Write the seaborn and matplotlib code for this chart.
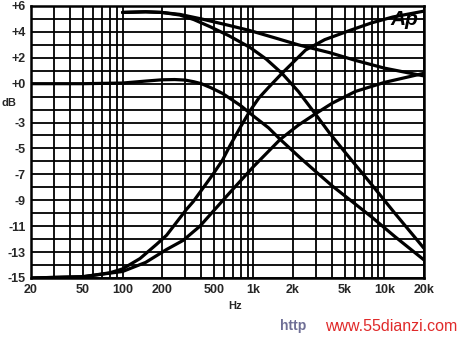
import matplotlib
matplotlib.use("Agg")
import matplotlib.pyplot as plt
import seaborn as sns
import pandas as pd
from matplotlib.ticker import FixedLocator, NullFormatter

# traces (frequency in Hz, level in dB)
lp_flat_f = [20, 50, 100, 150, 200, 250, 300, 350, 400, 470, 580, 800, 1000, 1300, 1600, 2260, 3000, 4000, 5500, 8000, 12000, 20000]
lp_flat_db = [0.0, 0.0, 0.05, 0.2, 0.3, 0.32, 0.28, 0.15, 0.0, -0.3, -0.75, -1.7, -2.5, -3.4, -4.3, -5.7, -6.8, -7.9, -9.0, -10.3, -11.8, -13.6]

lp_boost_f = [100, 150, 200, 274, 350, 466, 650, 940, 1250, 1650, 2200, 3000, 3800, 5100, 8000, 12000, 20000]
lp_boost_db = [5.5, 5.55, 5.5, 5.3, 4.95, 4.4, 3.7, 2.8, 1.9, 0.8, -0.6, -2.4, -3.8, -5.4, -7.8, -10.0, -12.7]

shelf_f = [100, 150, 200, 274, 400, 650, 940, 1500, 2200, 3800, 6000, 10000, 20000]
shelf_db = [5.5, 5.55, 5.5, 5.35, 5.0, 4.5, 4.1, 3.5, 3.0, 2.4, 1.8, 1.2, 0.6]

hp_boost_f = [20, 50, 80, 100, 136, 182, 217, 308, 347, 490, 580, 660, 800, 940, 1100, 1300, 1650, 2500, 3500, 5400, 8000, 11600, 20000]
hp_boost_db = [-15.0, -14.9, -14.6, -14.3, -13.5, -12.4, -11.7, -9.7, -9.1, -7.0, -5.9, -4.8, -3.3, -2.1, -1.1, -0.3, 0.8, 2.6, 3.4, 4.1, 4.7, 5.15, 5.6]

hp_flat_f = [20, 50, 100, 150, 217, 290, 390, 585, 661, 1000, 1600, 2200, 3000, 4000, 6000, 10000, 20000]
hp_flat_db = [-15.0, -14.9, -14.5, -13.8, -12.8, -12.1, -11.0, -9.0, -8.4, -6.4, -4.3, -3.2, -2.3, -1.5, -0.6, 0.1, 0.8]

x_ticks = [20, 50, 100, 200, 500, 1000, 2000, 5000, 10000, 20000]
x_labels = ["20", "50", "100", "200", "500", "1k", "2k", "5k", "10k", "20k"]
y_ticks = [6, 4, 2, 0, -3, -5, -7, -9, -11, -13, -15]
y_labels = ["+6", "+4", "+2", "+0", "-3", "-5", "-7", "-9", "-11", "-13", "-15"]

sns.set_theme(style="white")
plt.rcParams["font.family"] = ["Liberation Sans", "DejaVu Sans"]

fig = plt.figure(figsize=(4.59, 3.39), dpi=100)
ax = fig.add_axes([0.0675, 0.180, 0.856, 0.8024])

traces = [(lp_flat_f, lp_flat_db), (lp_boost_f, lp_boost_db), (shelf_f, shelf_db),
          (hp_boost_f, hp_boost_db), (hp_flat_f, hp_flat_db)]
for f, db in traces:
    df = pd.DataFrame({"Hz": f, "dB": db})
    sns.lineplot(data=df, x="Hz", y="dB", ax=ax, color="black", lw=2.3,
                 estimator=None, sort=False, zorder=3)

ax.set_xscale("log")
ax.set_xlim(20, 20000)
ax.set_ylim(-15, 6)

minor_x = [m * d for d in (10, 100, 1000, 10000) for m in range(1, 10) if 20 <= m * d <= 20000]
ax.xaxis.set_major_locator(FixedLocator(x_ticks))
ax.xaxis.set_minor_locator(FixedLocator(minor_x))
ax.xaxis.set_minor_formatter(NullFormatter())
ax.set_xticklabels(x_labels)
ax.yaxis.set_major_locator(FixedLocator(y_ticks))
ax.yaxis.set_minor_locator(FixedLocator(list(range(-15, 7))))
ax.set_yticklabels(y_labels)

ax.grid(which="both", color="black", lw=1.3, zorder=1)
ax.tick_params(which="both", length=0, labelsize=9, pad=4)
for lab in ax.get_xticklabels() + ax.get_yticklabels():
    lab.set_fontweight("bold")
for s in ax.spines.values():
    s.set_color("black")
    s.set_linewidth(1.8)

ax.set_xlabel("Hz", fontsize=8, fontweight="bold", labelpad=3)
ax.xaxis.set_label_coords(0.52, -0.085)
ax.set_ylabel("dB", rotation=0, fontsize=8, fontweight="bold")
ax.yaxis.set_label_coords(-0.055, 0.625)

ax.text(0.985, 0.985, "Ap", transform=ax.transAxes, ha="right", va="top",
        fontsize=15, fontweight="bold", fontstyle="italic", color="black", zorder=5)

fig.text(0.61, 0.038, "http", fontsize=10, fontweight="bold", color="#6f6f96", ha="left", va="center")
fig.text(0.708, 0.038, "www.55dianzi.com", fontsize=11.5, color="#e02a2a", ha="left", va="center")

fig.savefig("out.png", dpi=100)
